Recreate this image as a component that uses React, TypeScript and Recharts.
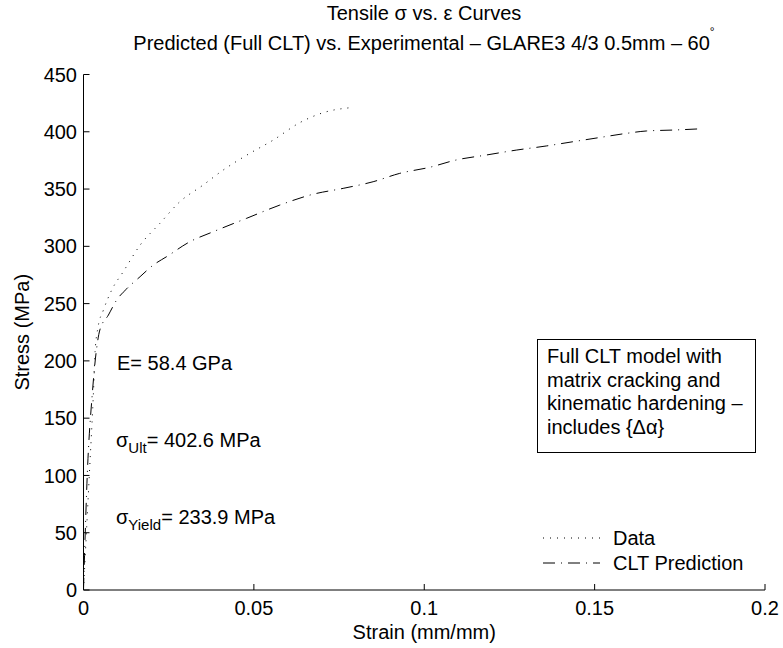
import { LineChart, Line, XAxis, YAxis } from 'recharts';

// Measured stress-strain test (dotted)
const dataStrain = [0, 0.0017, 0.003, 0.0034, 0.0043, 0.0058, 0.0083, 0.0117, 0.0166, 0.0224, 0.0283, 0.0351, 0.041, 0.0483, 0.0557, 0.0635, 0.0713, 0.0782];
const dataStress = [0, 100, 178, 208, 230, 244, 262, 278, 301, 320, 339, 353.5, 366.6, 380.3, 392.8, 408, 417.5, 421];

// Full CLT model prediction (dash-dot)
const cltStrain = [0, 0.0003, 0.0011, 0.0026, 0.0039, 0.0048, 0.0073, 0.0097, 0.0127, 0.0166, 0.0205, 0.0244, 0.0312, 0.0381, 0.0479, 0.0576, 0.0674, 0.0762, 0.085, 0.0928, 0.1016, 0.1094, 0.1182, 0.127, 0.1358, 0.1436, 0.1515, 0.1593, 0.1652, 0.173, 0.1812];
const cltStress = [0, 30, 100, 172, 212, 227, 240, 253, 263, 273.5, 283.7, 291, 304, 312.8, 324.5, 336, 345.5, 350.6, 356.4, 363.7, 369, 375.4, 379.7, 384, 387.6, 391.3, 395, 398.6, 400.7, 401.5, 402.6];

const xTicks = [0, 0.05, 0.1, 0.15, 0.2];
const yTicks = [0, 50, 100, 150, 200, 250, 300, 350, 400, 450];

const seriesNames = ['Data', 'CLT Prediction'];
const boxLines = ['Full CLT model with', 'matrix cracking and', 'kinematic hardening \u2013', 'includes {\u0394\u03b1}'];

const FONT = '"Liberation Sans", Arial, Helvetica, sans-serif';

const measured = dataStrain.map((strain, i) => ({ strain, stress: dataStress[i] }));
const predicted = cltStrain.map((strain, i) => ({ strain, stress: cltStress[i] }));

const DASHES: Record<string, string> = {
  Data: '1 6',
  'CLT Prediction': '12 6 1 6',
};

export default function App() {
  return (
    <div style={{ position: 'absolute', left: 0, top: 0, width: 783, height: 648, background: '#fff', fontFamily: FONT }}>
      <LineChart
        width={783}
        height={648}
        margin={{ top: 74.5, right: 18, bottom: 0, left: 0 }}
        style={{ fontFamily: FONT }}
      >
        <XAxis
          dataKey="strain"
          type="number"
          domain={[0, 0.2]}
          ticks={xTicks}
          interval={0}
          height={58}
          stroke="#000"
          tickSize={-6}
          tickMargin={17}
          tick={{ fontSize: 20, fill: '#000' }}
          allowDataOverflow
          label={{
            content: ({ viewBox }: any) => (
              <text x={viewBox.x + viewBox.width / 2} y={viewBox.y + 49} textAnchor="middle" fontSize={20} fill="#000">
                Strain (mm/mm)
              </text>
            ),
          }}
        />
        <YAxis
          type="number"
          domain={[0, 450]}
          ticks={yTicks}
          interval={0}
          width={83.5}
          stroke="#000"
          tickSize={-6}
          tickMargin={12.5}
          tick={{ fontSize: 20, fill: '#000' }}
          allowDataOverflow
          label={{
            content: ({ viewBox }: any) => {
              const cx = viewBox.x + 29;
              const cy = viewBox.y + viewBox.height / 2;
              return (
                <text x={cx} y={cy} transform={`rotate(-90 ${cx} ${cy})`} textAnchor="middle" fontSize={20} fill="#000">
                  Stress (MPa)
                </text>
              );
            },
          }}
        />
        <Line
          data={measured}
          dataKey="stress"
          name={seriesNames[0]}
          type="monotone"
          stroke="#000"
          strokeWidth={1}
          strokeDasharray={DASHES.Data}
          dot={false}
          isAnimationActive={false}
        />
        <Line
          data={predicted}
          dataKey="stress"
          name={seriesNames[1]}
          type="monotone"
          stroke="#000"
          strokeWidth={1}
          strokeDasharray={DASHES['CLT Prediction']}
          dot={false}
          isAnimationActive={false}
        />
      </LineChart>

      <svg
        width={783}
        height={648}
        style={{ position: 'absolute', left: 0, top: 0, pointerEvents: 'none' }}
        fontFamily={FONT}
        fill="#000"
      >
        <text x={424} y={20} textAnchor="middle" fontSize={20}>
          Tensile {'\u03c3'} vs. {'\u03b5'} Curves
        </text>
        <text x={424} y={50} textAnchor="middle" fontSize={20}>
          Predicted (Full CLT) vs. Experimental {'\u2013'} GLARE3 4/3 0.5mm {'\u2013'} 60
          <tspan fontSize={12} dy={-14}>{'\u00b0'}</tspan>
        </text>

        <text x={117} y={370} fontSize={20}>E= 58.4 GPa</text>
        <text x={116} y={447} fontSize={20}>
          {'\u03c3'}
          <tspan fontSize={15} dy={6}>Ult</tspan>
          <tspan dy={-6}>= 402.6 MPa</tspan>
        </text>
        <text x={116} y={524} fontSize={20}>
          {'\u03c3'}
          <tspan fontSize={15} dy={6}>Yield</tspan>
          <tspan dy={-6}>= 233.9 MPa</tspan>
        </text>

        <rect x={537.5} y={339.5} width={218} height={113} fill="#fff" stroke="#000" strokeWidth={1} />
        {boxLines.map((line, i) => (
          <text key={line} x={547} y={363 + i * 23.7} fontSize={20}>
            {line}
          </text>
        ))}

        {/* legend, no frame */}
        {seriesNames.map((name, i) => (
          <g key={name} transform={`translate(543, ${538 + i * 25})`}>
            <line x1={0} x2={57} y1={0} y2={0} stroke="#000" strokeDasharray={DASHES[name]} />
            <text x={70} y={7} fontSize={20}>{name}</text>
          </g>
        ))}
      </svg>
    </div>
  );
}
